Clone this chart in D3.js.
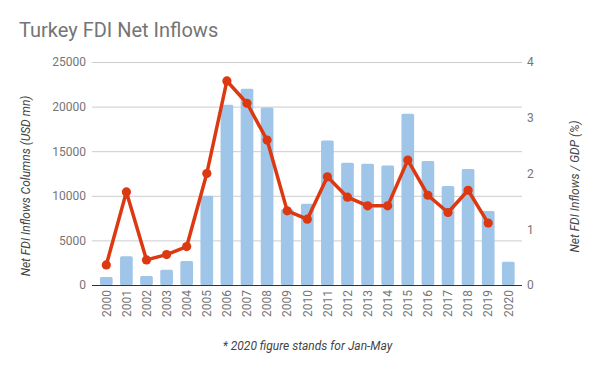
<!DOCTYPE html>
<html>
<head>
<meta charset="utf-8">
<script src="https://cdn.jsdelivr.net/npm/d3@7"></script>
<style>
  html, body { margin: 0; padding: 0; background: #fff; }
  svg { display: block; font-family: Roboto, "Noto Sans", sans-serif; }
</style>
</head>
<body>
<svg id="chart" width="600" height="371"></svg>
<script>
const years = ["2000","2001","2002","2003","2004","2005","2006","2007","2008","2009","2010",
               "2011","2012","2013","2014","2015","2016","2017","2018","2019","2020"];
const fdiColumns = [900, 3220, 1010, 1700, 2700, 10000, 20200, 22000, 19900, 8500, 9100,
                    16200, 13700, 13600, 13400, 19200, 13900, 11100, 13000, 8300, 2600];
const fdiGdpYears = ["2000","2001","2002","2003","2004","2005","2006","2007","2008","2009","2010",
                     "2011","2012","2013","2014","2015","2016","2017","2018","2019"];
const fdiGdp = [0.36, 1.67, 0.45, 0.545, 0.69, 2.0, 3.66, 3.26, 2.6, 1.33, 1.18,
                1.94, 1.575, 1.42, 1.42, 2.24, 1.61, 1.30, 1.70, 1.11];
const leftTicks = [0, 5000, 10000, 15000, 20000, 25000];
const rightTicks = [0, 1, 2, 3, 4];

const svg = d3.select("#chart");
const plotLeft = 92, plotRight = 522, plotTop = 62, plotBottom = 285;

const x = d3.scaleBand().domain(years).range([96.25, 518.35]).paddingInner(0.37).paddingOuter(0.185);
const yL = d3.scaleLinear().domain([0, 25000]).range([plotBottom, plotTop]);
const yR = d3.scaleLinear().domain([0, 4]).range([plotBottom, plotTop]);

// Title
svg.append("text").attr("x", 19).attr("y", 37)
  .attr("font-size", 20).attr("fill", "#757575").text("Turkey FDI Net Inflows");

// Left axis with gridlines
const gL = svg.append("g").attr("transform", `translate(${plotLeft},0)`)
  .call(d3.axisLeft(yL).tickValues(leftTicks).tickSize(-(plotRight - plotLeft)).tickPadding(6).tickFormat(d3.format("d")));
gL.select(".domain").remove();
gL.selectAll(".tick line").attr("stroke", "#cccccc");
gL.selectAll(".tick text").attr("fill", "#757575").attr("font-size", 12).attr("font-family", "Roboto");

// Right axis
const gR = svg.append("g").attr("transform", `translate(${plotRight},0)`)
  .call(d3.axisRight(yR).tickValues(rightTicks).tickSize(0).tickPadding(5).tickFormat(d3.format("d")));
gR.select(".domain").remove();
gR.selectAll(".tick text").attr("fill", "#757575").attr("font-size", 12).attr("font-family", "Roboto");

// Bars
svg.append("g").selectAll("rect").data(years).join("rect")
  .attr("x", d => x(d))
  .attr("width", x.bandwidth())
  .attr("y", (d, i) => yL(fdiColumns[i]))
  .attr("height", (d, i) => plotBottom - yL(fdiColumns[i]))
  .attr("rx", 1.5)
  .attr("fill", "#9fc5e8");

// Baseline
svg.append("line").attr("x1", plotLeft).attr("x2", plotRight).attr("y1", plotBottom + 0.5).attr("y2", plotBottom + 0.5)
  .attr("stroke", "#333333").attr("stroke-width", 1.2);

// X axis labels
const gX = svg.append("g").attr("transform", `translate(0,${plotBottom})`)
  .call(d3.axisBottom(x).tickSize(0));
gX.select(".domain").remove();
gX.selectAll(".tick text")
  .attr("transform", "rotate(-90)")
  .attr("text-anchor", "end")
  .attr("x", -5).attr("y", 0).attr("dy", "0.35em")
  .attr("fill", "#757575").attr("font-size", 12).attr("font-family", "Roboto");

// Line
const cx = d => x(d) + x.bandwidth() / 2;
const line = d3.line().x((d, i) => cx(fdiGdpYears[i])).y(d => yR(d));
svg.append("path").datum(fdiGdp)
  .attr("d", line).attr("fill", "none")
  .attr("stroke", "#dc3912").attr("stroke-width", 3.5).attr("stroke-linejoin", "round");
svg.append("g").selectAll("circle").data(fdiGdp).join("circle")
  .attr("cx", (d, i) => cx(fdiGdpYears[i]))
  .attr("cy", d => yR(d))
  .attr("r", 4.6)
  .attr("fill", "#dc3912");

// Axis titles
svg.append("text").attr("transform", "translate(29.5,186) rotate(-90)")
  .attr("text-anchor", "middle").attr("font-size", 12).attr("font-style", "italic")
  .attr("fill", "#444444").text("Net FDI Inflows Columns (USD mn)");
svg.append("text").attr("transform", "translate(578.5,186.5) rotate(-90)")
  .attr("text-anchor", "middle").attr("font-size", 12).attr("font-style", "italic")
  .attr("fill", "#444444").text("Net FDI Inflows / GDP (%)");

// Footnote
svg.append("text").attr("x", 307.5).attr("y", 350)
  .attr("text-anchor", "middle").attr("font-size", 12).attr("font-style", "italic")
  .attr("fill", "#444444").text("* 2020 figure stands for Jan-May");
</script>
</body>
</html>
